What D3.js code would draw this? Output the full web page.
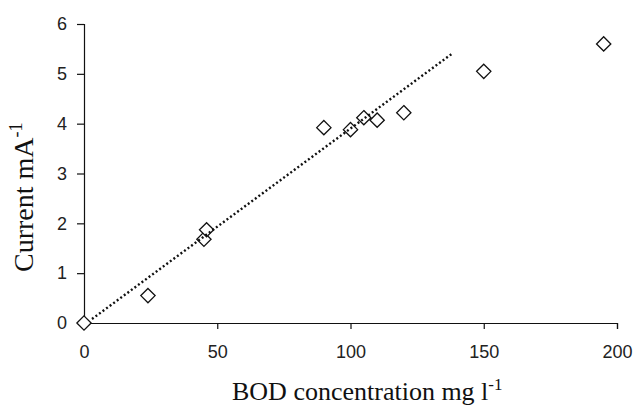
<!DOCTYPE html>
<html>
<head>
<meta charset="utf-8">
<script src="https://cdn.jsdelivr.net/npm/d3@7"></script>
<style>
  body { margin: 0; background: #fff; }
  svg { display: block; }
</style>
</head>
<body>
<svg></svg>
<script>
/* data */
let bod = [0, 24, 45, 46, 90, 100, 105, 110, 120, 150, 195];
let current = [0, 0.55, 1.68, 1.87, 3.92, 3.88, 4.12, 4.07, 4.22, 5.05, 5.6];
// dotted trend line, start and end
let trendX = [3, 138];
let trendY = [0.08, 5.4];
let xTicks = [0, 50, 100, 150, 200];
let yTicks = [0, 1, 2, 3, 4, 5, 6];

/* basic setup */
let svgWidth = 635;
let svgHeight = 408;
const svg = d3.select('svg')
    .attr("width", svgWidth)
    .attr("height", svgHeight);

let x = d3.scaleLinear().domain([0, 200]).range([84, 617]);
let y = d3.scaleLinear().domain([0, 6]).range([323, 24]);

// axes
svg.append("g")
    .attr("transform", "translate(0," + y(0) + ")")
    .call(d3.axisBottom(x).tickValues(xTicks).tickFormat(d3.format("d"))
        .tickSize(6).tickPadding(16));

svg.append("g")
    .attr("transform", "translate(" + x(0) + ",0)")
    .call(d3.axisLeft(y).tickValues(yTicks).tickFormat(d3.format("d"))
        .tickSize(7).tickPadding(10));

svg.selectAll(".domain, .tick line")
    .attr("stroke", "#111")
    .attr("stroke-width", 1.2);
svg.selectAll(".tick text")
    .attr("fill", "#222")
    .style("font-family", "'Liberation Sans', Arial, sans-serif")
    .style("font-size", "18px");

// points: open diamonds
let diamond = d3.symbol().type(d3.symbolDiamond2).size(130);
svg.selectAll("path.pt")
    .data(bod)
    .enter()
    .append("path")
    .attr("class", "pt")
    .attr("d", diamond)
    .attr("transform", function (d, i) {
        return "translate(" + x(d) + "," + y(current[i]) + ")";
    })
    .attr("fill", "#fff")
    .attr("stroke", "#111")
    .attr("stroke-width", 1.3);

// trend line on top of the points
let line = d3.line()
    .x(function (d) { return x(d); })
    .y(function (d, i) { return y(trendY[i]); });
svg.append("path")
    .attr("d", line(trendX))
    .attr("fill", "none")
    .attr("stroke", "#111")
    .attr("stroke-width", 2.4)
    .attr("stroke-dasharray", "2,2.4");

// axis titles
let xTitle = svg.append("text")
    .attr("x", 232)
    .attr("y", 400)
    .style("font-family", "'Liberation Serif', 'Times New Roman', serif")
    .style("font-size", "26px")
    .attr("fill", "#111");
xTitle.append("tspan").text("BOD concentration mg l");
xTitle.append("tspan").attr("dy", -10).style("font-size", "17px").text("-1");

let yTitle = svg.append("text")
    .attr("transform", "translate(33,272) rotate(-90)")
    .style("font-family", "'Liberation Serif', 'Times New Roman', serif")
    .style("font-size", "28px")
    .attr("fill", "#111");
yTitle.append("tspan").text("Current mA");
yTitle.append("tspan").attr("dy", -11).style("font-size", "18px").text("-1");
</script>
</body>
</html>
